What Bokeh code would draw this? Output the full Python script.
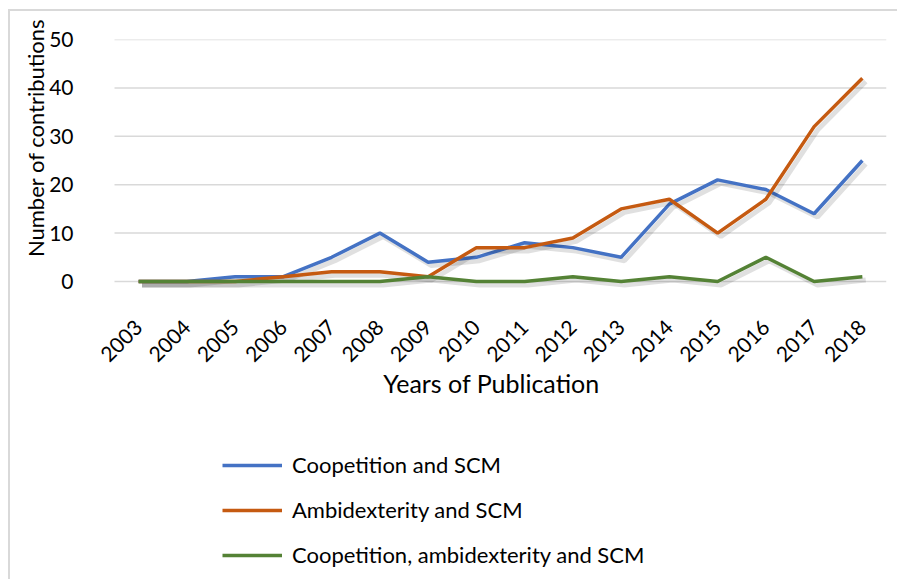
from bokeh.plotting import figure
from bokeh.models import (ColumnDataSource, Legend, LegendItem, Range1d,
                          FixedTicker, Title)
from bokeh.transform import dodge
from bokeh.embed import file_html
from bokeh.resources import INLINE
from math import pi

years = [2003, 2004, 2005, 2006, 2007, 2008, 2009, 2010,
         2011, 2012, 2013, 2014, 2015, 2016, 2017, 2018]
coopetition_scm = [0, 0, 1, 1, 5, 10, 4, 5, 8, 7, 5, 16, 21, 19, 14, 25]
ambidexterity_scm = [0, 0, 0, 1, 2, 2, 1, 7, 7, 9, 15, 17, 10, 17, 32, 42]
coop_ambi_scm = [0, 0, 0, 0, 0, 0, 1, 0, 0, 1, 0, 1, 0, 5, 0, 1]
y_ticks = [0, 10, 20, 30, 40, 50]

series_names = ["Coopetition and SCM", "Ambidexterity and SCM",
                "Coopetition, ambidexterity and SCM"]
series_values = [coopetition_scm, ambidexterity_scm, coop_ambi_scm]
colors = ["#4472C4", "#C55A11", "#548235"]

FONT = "Lato"

# frame reaches the bottom of the figure so that the legend can sit under the axis
p = figure(x_range=Range1d(2002.127, 2018.5), y_range=Range1d(-61.98, 50),
           width=889, height=570, output_backend="svg", toolbar_location=None,
           min_border_left=86, min_border_right=13, min_border_top=28,
           min_border_bottom=0)
p.outline_line_color = None
p.background_fill_color = "white"
p.xgrid.grid_line_color = None
p.ygrid.grid_line_color = None

# horizontal gridlines across the category band of the years
grid_src = ColumnDataSource(dict(y=y_ticks,
                                 x0=[years[0]] * len(y_ticks),
                                 x1=[years[-1]] * len(y_ticks)))
p.segment(x0=dodge("x0", -0.5), x1=dodge("x1", 0.5), y0="y", y1="y",
          source=grid_src, line_color="#d9d9d9", line_width=1.5)

items = []
for name, vals, col in zip(series_names, series_values, colors):
    src = ColumnDataSource(dict(x=years, y=vals))
    p.line(x=dodge("x", 0.07), y=dodge("y", -0.7), source=src,
           line_color="#000000", line_alpha=0.12, line_width=5)
    r = p.line(x="x", y="y", source=src, line_color=col, line_width=3.5)
    items.append(LegendItem(label=name, renderers=[r]))

for ax in (p.xaxis, p.yaxis):
    ax.major_tick_line_color = None
    ax.minor_tick_line_color = None
    ax.major_tick_out = 0
    ax.major_tick_in = 0
    ax.minor_tick_out = 0
    ax.minor_tick_in = 0
    ax.axis_line_color = None
    ax.major_label_text_font = FONT
    ax.major_label_text_font_size = "21px"
    ax.major_label_text_color = "#000000"
    ax.axis_label_text_font = FONT
    ax.axis_label_text_font_style = "normal"
    ax.axis_label_text_color = "#000000"

p.yaxis.ticker = FixedTicker(ticks=y_ticks)
p.yaxis.major_label_standoff = 23

p.xaxis.ticker = FixedTicker(ticks=years)
p.xaxis.fixed_location = 0
p.xaxis.major_label_orientation = pi / 4
p.xaxis.major_label_standoff = 42
p.xaxis.axis_label = "Years of Publication"
p.xaxis.axis_label_text_font_size = "25px"
p.xaxis.axis_label_standoff = -4

ytitle = Title(text="Number of contributions", align="right", offset=-21,
               standoff=-4, text_font=FONT, text_font_size="22px",
               text_font_style="normal", text_color="#000000")
p.add_layout(ytitle, "left")

legend = Legend(items=items, location=(126, 13), orientation="vertical",
                label_text_font=FONT, label_text_font_size="22px",
                label_text_color="#000000", glyph_width=60, glyph_height=26,
                label_height=26, spacing=18, label_standoff=10,
                border_line_color=None, background_fill_alpha=0,
                padding=0, margin=0)
p.add_layout(legend, "center")

p.styles = {"margin": "9px 0 0 8px",
            "border-top": "2px solid #d9d9d9", "border-left": "2px solid #d9d9d9"}

open("out.html", "w").write(file_html(p, INLINE))
